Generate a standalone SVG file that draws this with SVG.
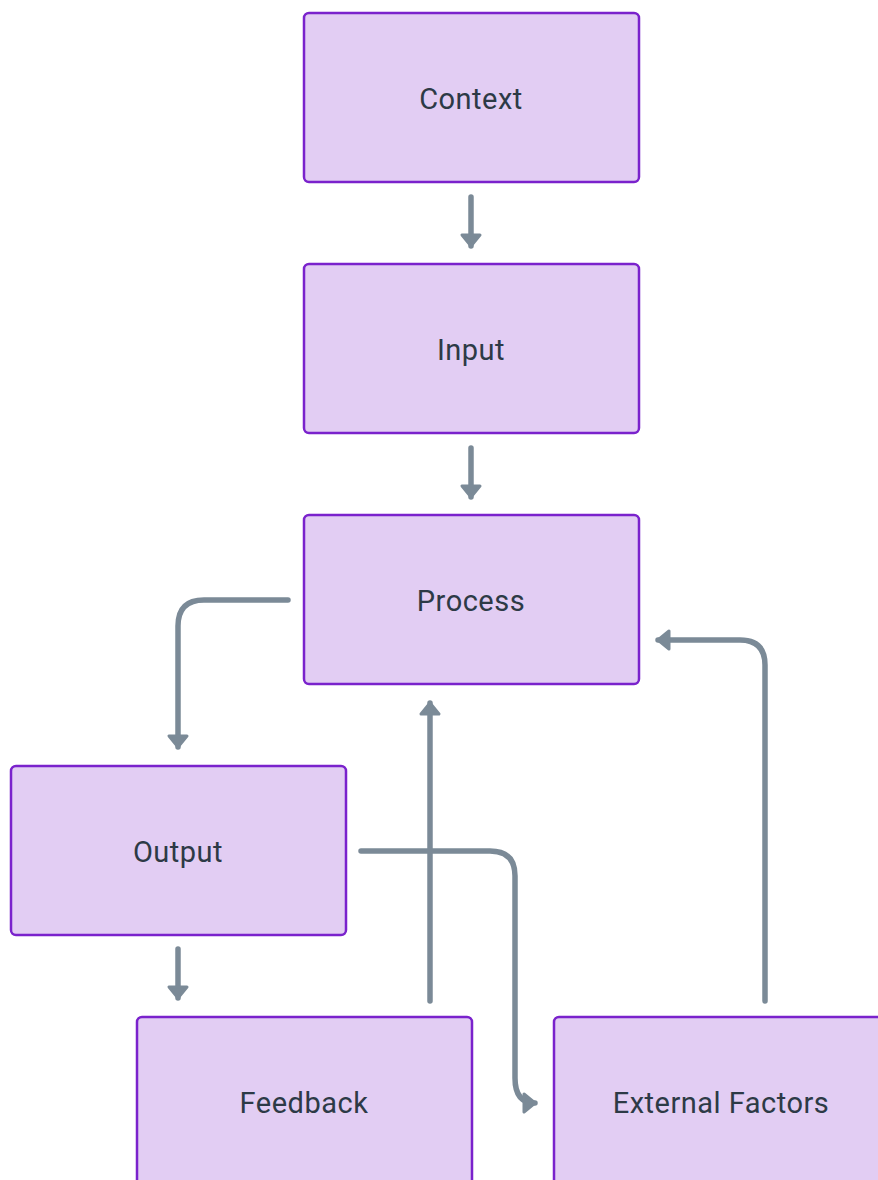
<svg xmlns="http://www.w3.org/2000/svg" width="878" height="1180" viewBox="0 0 878 1180">
  <style>
    .box { fill: #e2cdf3; stroke: #7a22cc; stroke-width: 2.5; }
    .label { font-family: Roboto, "DejaVu Sans", sans-serif; font-size: 29px; letter-spacing: 0.5px; fill: #2d3a46; text-anchor: middle; dominant-baseline: central; }
    .edge { fill: none; stroke: #7b8a97; stroke-width: 5.5; stroke-linecap: round; stroke-linejoin: round; }
  </style>
  <defs>
    <marker id="arrow" markerUnits="userSpaceOnUse" markerWidth="24" markerHeight="24" viewBox="0 0 24 24" refX="15" refY="12" orient="auto">
      <path d="M4,3 L15,12 L4,21 Z" fill="#7b8a97" stroke="#7b8a97" stroke-width="3" stroke-linejoin="round"/>
    </marker>
  </defs>
  <rect width="878" height="1180" fill="#ffffff"/>

  <g id="connectors">
    <path class="edge" d="M471,197 V246" marker-end="url(#arrow)"/>
    <path class="edge" d="M471,448 V497" marker-end="url(#arrow)"/>
    <path class="edge" d="M288,600 H204 Q178,600 178,626 V747" marker-end="url(#arrow)"/>
    <path class="edge" d="M178,949 V998" marker-end="url(#arrow)"/>
    <path class="edge" d="M361,851 H490 Q515,851 515,876 V1078 Q515,1103 535,1103" marker-end="url(#arrow)"/>
    <path class="edge" d="M430,1001 V703" marker-end="url(#arrow)"/>
    <path class="edge" d="M765,1001 V665 Q765,640 740,640 H658" marker-end="url(#arrow)"/>
  </g>

  <g id="context">
    <rect class="box" x="304" y="13" width="335" height="169" rx="5"/>
    <text class="label" x="471" y="99">Context</text>
  </g>
  <g id="input">
    <rect class="box" x="304" y="264" width="335" height="169" rx="5"/>
    <text class="label" x="471" y="350">Input</text>
  </g>
  <g id="process">
    <rect class="box" x="304" y="515" width="335" height="169" rx="5"/>
    <text class="label" x="471" y="601">Process</text>
  </g>
  <g id="output">
    <rect class="box" x="11" y="766" width="335" height="169" rx="5"/>
    <text class="label" x="178" y="852">Output</text>
  </g>
  <g id="feedback">
    <rect class="box" x="137" y="1017" width="335" height="169" rx="5"/>
    <text class="label" x="304" y="1103">Feedback</text>
  </g>
  <g id="external-factors">
    <rect class="box" x="554" y="1017" width="335" height="169" rx="5"/>
    <text class="label" x="721" y="1103">External Factors</text>
  </g>
</svg>
